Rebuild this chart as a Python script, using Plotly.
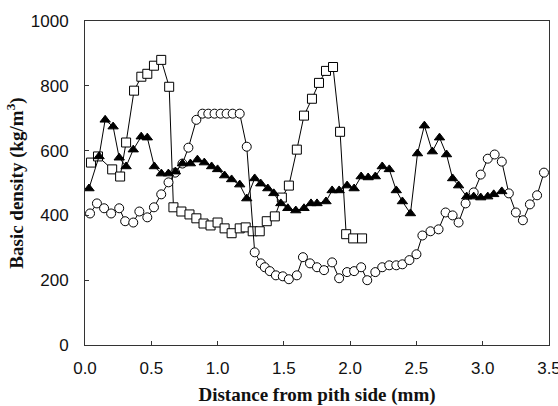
import plotly.graph_objects as go

# Series 1: open squares
sq_x = [0.045, 0.098, 0.205, 0.265, 0.31, 0.37, 0.425, 0.47, 0.52, 0.575, 0.635,
        0.667, 0.727, 0.788, 0.84, 0.894, 0.947, 1.0, 1.053, 1.106, 1.167, 1.212,
        1.265, 1.318, 1.371, 1.432, 1.485, 1.538, 1.598, 1.652, 1.712, 1.765,
        1.818, 1.871, 1.924, 1.97, 2.023, 2.09]
sq_y = [563, 582, 542, 520, 625, 785, 828, 837, 862, 880, 797,
        425, 412, 403, 391, 375, 369, 378, 360, 345, 360, 363,
        351, 351, 382, 397, 455, 492, 603, 708, 760, 809,
        846, 858, 658, 342, 329, 329]

# Series 2: open circles
ci_x = [0.038, 0.09, 0.144, 0.197, 0.258, 0.303, 0.364, 0.41, 0.47, 0.52, 0.575,
        0.63, 0.68, 0.735, 0.78, 0.84, 0.886, 0.93, 0.977, 1.023, 1.068, 1.114,
        1.167, 1.22, 1.28, 1.326, 1.356, 1.394, 1.44, 1.492, 1.538, 1.598, 1.644,
        1.697, 1.75, 1.803, 1.864, 1.917, 1.977, 2.03, 2.083, 2.129, 2.19, 2.242,
        2.295, 2.348, 2.394, 2.447, 2.5, 2.545, 2.606, 2.667, 2.72, 2.773, 2.818,
        2.871, 2.932, 2.985, 3.038, 3.09, 3.144, 3.197, 3.25, 3.303, 3.356, 3.41,
        3.462]
ci_y = [406, 437, 422, 406, 422, 382, 378, 412, 394, 425, 465,
        502, 532, 560, 609, 695, 714, 714, 714, 714, 714, 714,
        714, 612, 286, 252, 240, 228, 215, 212, 203, 215, 271,
        252, 240, 231, 255, 206, 225, 228, 240, 200, 225, 240,
        246, 246, 249, 262, 280, 338, 351, 357, 409, 400, 378,
        437, 471, 526, 575, 588, 566, 468, 409, 385, 434, 462,
        532]

# Series 3: filled triangles
tr_x = [0.03, 0.106, 0.152, 0.212, 0.258, 0.31, 0.364, 0.424, 0.47, 0.523, 0.576,
        0.629, 0.682, 0.735, 0.795, 0.848, 0.9, 0.955, 1.0, 1.053, 1.106, 1.167,
        1.22, 1.28, 1.326, 1.379, 1.424, 1.477, 1.53, 1.59, 1.652, 1.705, 1.75,
        1.818, 1.864, 1.917, 1.977, 2.03, 2.083, 2.136, 2.19, 2.242, 2.295, 2.348,
        2.394, 2.455, 2.508, 2.56, 2.62, 2.674, 2.727, 2.773, 2.818, 2.879, 2.932,
        2.985, 3.038, 3.083, 3.144]
tr_y = [483, 582, 695, 674, 578, 551, 603, 643, 640, 551, 529,
        529, 535, 560, 560, 572, 563, 551, 542, 523, 511, 495,
        452, 514, 498, 483, 468, 437, 422, 415, 422, 437, 437,
        443, 477, 477, 492, 483, 520, 517, 520, 551, 542, 477,
        443, 406, 591, 677, 597, 640, 588, 514, 492, 458, 458,
        455, 458, 465, 474]

x_ticks = [0.0, 0.5, 1.0, 1.5, 2.0, 2.5, 3.0, 3.5]
y_ticks = [0, 200, 400, 600, 800, 1000]

fig = go.Figure()
line = dict(color="black", width=1)
fig.add_trace(go.Scatter(x=sq_x, y=sq_y, mode="lines+markers", line=line,
                         marker=dict(symbol="square", size=9, color="white",
                                     line=dict(color="black", width=1))))
fig.add_trace(go.Scatter(x=ci_x, y=ci_y, mode="lines+markers", line=line,
                         marker=dict(symbol="circle", size=9, color="white",
                                     line=dict(color="black", width=1))))
fig.add_trace(go.Scatter(x=tr_x, y=tr_y, mode="lines+markers", line=line,
                         marker=dict(symbol="triangle-up", size=9, color="black",
                                     line=dict(color="black", width=1))))

tickfont = dict(family="Liberation Sans, Arial, sans-serif", size=17, color="#111")
titlefont = dict(family="Liberation Serif, Times New Roman, serif", size=19, color="#111")

fig.update_layout(
    width=558, height=406,
    margin=dict(l=85, r=9, t=21, b=61),
    paper_bgcolor="white", plot_bgcolor="white",
    showlegend=False,
    xaxis=dict(range=[0, 3.5], tickvals=x_ticks,
               ticktext=[f"{v:.1f}" for v in x_ticks],
               ticks="inside", ticklen=4, tickcolor="#333",
               ticklabelstandoff=8, ticklabeloverflow="allow", automargin=False,
               showline=True, linecolor="#333", linewidth=1, mirror=True,
               showgrid=False, zeroline=False, tickfont=tickfont,
               title=dict(text="<b>Distance from pith side (mm)</b>", font=titlefont, standoff=10)),
    yaxis=dict(range=[0, 1000], tickvals=y_ticks,
               ticks="inside", ticklen=4, tickcolor="#333",
               ticklabelstandoff=12, automargin=False,
               showline=True, linecolor="#333", linewidth=1, mirror=True,
               showgrid=False, zeroline=False, tickfont=tickfont,
               title=dict(text="<b>Basic density (kg/m<sup>3</sup>)</b>", font=titlefont, standoff=2)),
)

fig.write_html("out.html")
